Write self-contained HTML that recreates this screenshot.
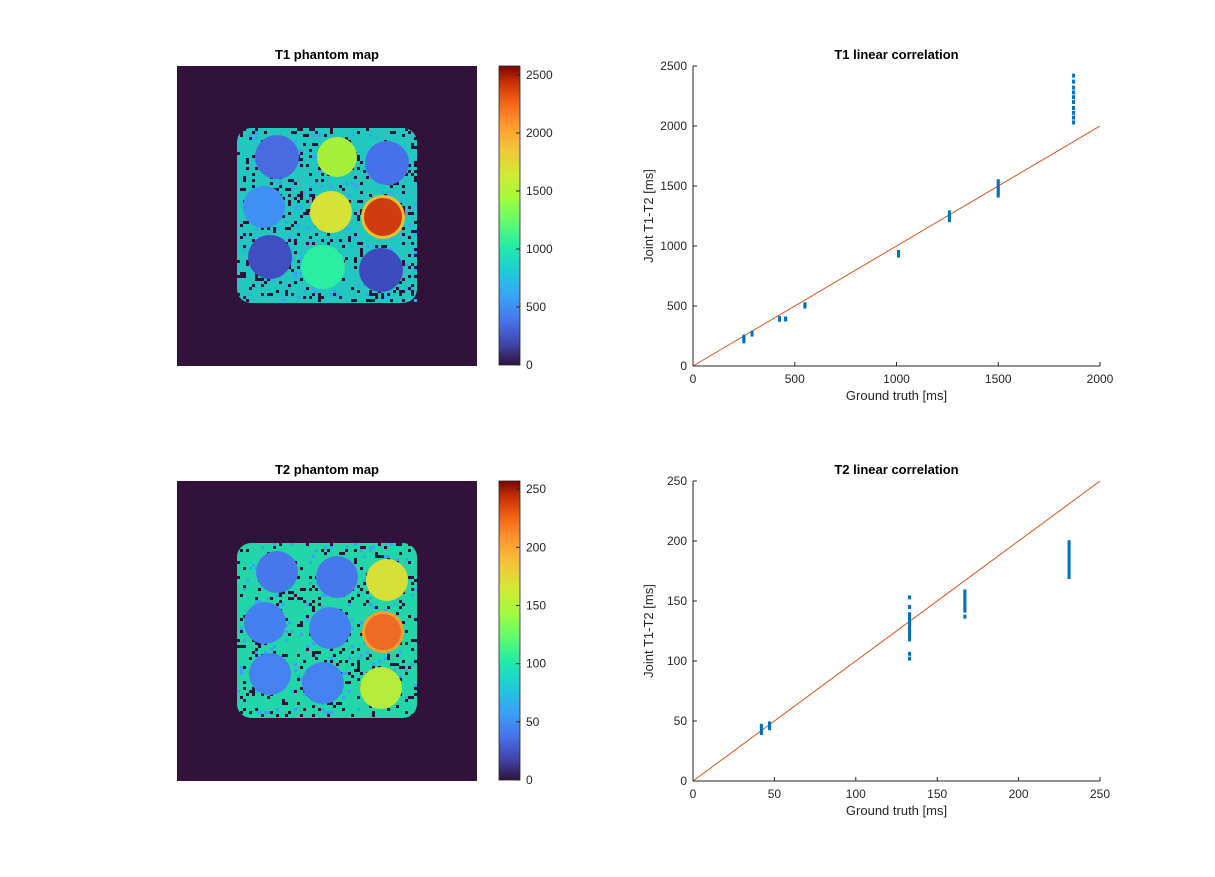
<!DOCTYPE html>
<html><head><meta charset="utf-8">
<style>
html,body{margin:0;padding:0;background:#fff;}
svg{display:block;font-family:"Liberation Sans",Arial,sans-serif;}
</style></head>
<body>
<svg id="fig" width="1215" height="877" viewBox="0 0 1215 877" xmlns="http://www.w3.org/2000/svg">
<defs>
<linearGradient id="turbo" x1="0" y1="1" x2="0" y2="0">
<stop offset="0" stop-color="#30123b"/>
<stop offset="0.07" stop-color="#4145ab"/>
<stop offset="0.15" stop-color="#4675ed"/>
<stop offset="0.23" stop-color="#39a2fc"/>
<stop offset="0.32" stop-color="#1bcfd4"/>
<stop offset="0.40" stop-color="#24eca6"/>
<stop offset="0.48" stop-color="#61fc6c"/>
<stop offset="0.56" stop-color="#a4fc3b"/>
<stop offset="0.64" stop-color="#d1e834"/>
<stop offset="0.72" stop-color="#f3c63a"/>
<stop offset="0.80" stop-color="#fe9b2d"/>
<stop offset="0.88" stop-color="#f36315"/>
<stop offset="0.95" stop-color="#c42d03"/>
<stop offset="1" stop-color="#7a0403"/>
</linearGradient>
<radialGradient id="ringT1"><stop offset="0.8" stop-color="#d2400f"/><stop offset="1" stop-color="#e6c02a"/></radialGradient>
</defs>
</svg>
<script>
const NS='http://www.w3.org/2000/svg';
const svg=document.getElementById('fig');
function mk(tag,attrs,parent){const e=document.createElementNS(NS,tag);for(const k in attrs)e.setAttribute(k,attrs[k]);(parent||svg).appendChild(e);return e;}

// ---------- chart data ----------
const t1GroundTruth=[250,290,425,455,550,1010,1260,1500,1870];
const t1Measured=[
 [205,215,225,235,245],
 [262,270,278],
 [385,393,400],
 [388,396],
 [495,505,515],
 [920,930,940,950],
 [1215,1230,1245,1260,1280],
 [1420,1440,1460,1480,1500,1520,1540],
 [2030,2070,2110,2150,2200,2240,2280,2320,2370,2420]
];
const t1XTicks=[0,500,1000,1500,2000];
const t1YTicks=[0,500,1000,1500,2000,2500];

const t2GroundTruth=[42,47,133,167,231];
const t2Measured=[
 [40,42,44,46],
 [44,46,48],
 [102,106,118,121,124,127,130,133,136,139,145,153],
 [137,142,144,146,148,150,152,154,156,158],
 [170,173,176,179,182,185,188,191,194,197,199]
];
const t2XTicks=[0,50,100,150,200,250];
const t2YTicks=[0,50,100,150,200,250];

const t1CbarTicks=[0,500,1000,1500,2000,2500];
const t2CbarTicks=[0,50,100,150,200,250];

// ---------- scatter plots ----------
function scatter(name,title,x0,y0,w,h,xmax,ymax,xt,yt,gx,gy,fitMax){
  const g=mk('g',{});
  
  
  const X=v=>x0+v/xmax*w, Y=v=>y0+h-v/ymax*h;
  mk('rect',{x:x0,y:y0,width:w,height:h,fill:'#fff'},g);
  // fit line
  const ln=mk('line',{x1:X(0),y1:Y(0),x2:X(fitMax),y2:Y(fitMax),stroke:'#d95319','stroke-width':1},g);
  
  
  gx.forEach((xv,i)=>{gy[i].forEach(yv=>{
    const p=mk('rect',{x:X(xv)-1.5,y:Y(yv)-2,width:3,height:4,fill:'#0072bd'},g);
    
    
  });});
  // axes
  mk('line',{x1:x0,y1:y0+h,x2:x0+w,y2:y0+h,stroke:'#262626','stroke-width':1},g);
  mk('line',{x1:x0,y1:y0,x2:x0,y2:y0+h,stroke:'#262626','stroke-width':1},g);
  xt.forEach(v=>{
    mk('line',{x1:X(v),y1:y0+h,x2:X(v),y2:y0+h-4,stroke:'#262626'},g);
    const t=mk('text',{x:X(v),y:y0+h+17,'font-size':12,fill:'#262626','text-anchor':'middle'},g);
    t.textContent=v;
    
    
  });
  yt.forEach(v=>{
    mk('line',{x1:x0,y1:Y(v),x2:x0+4,y2:Y(v),stroke:'#262626'},g);
    const t=mk('text',{x:x0-6,y:Y(v)+4,'font-size':12,fill:'#262626','text-anchor':'end'},g);
    t.textContent=v;
    
    
  });
  const tt=mk('text',{x:x0+w/2,y:y0-7,'font-size':13,'font-weight':'bold',fill:'#000','text-anchor':'middle'},g);
  tt.textContent=title;
  
  
  const xl=mk('text',{x:x0+w/2,y:y0+h+34,'font-size':13,fill:'#262626','text-anchor':'middle'},g);
  xl.textContent='Ground truth [ms]';
  
  
  const yl=mk('text',{x:0,y:0,'font-size':13,fill:'#262626','text-anchor':'middle',transform:`translate(${x0-40},${y0+h/2}) rotate(-90)`},g);
  yl.textContent='Joint T1-T2 [ms]';
  
  
}
scatter('t1-correlation-plot','T1 linear correlation',693,66,407,300,2000,2500,t1XTicks,t1YTicks,t1GroundTruth,t1Measured,2000);
scatter('t2-correlation-plot','T2 linear correlation',693,481,407,300,250,250,t2XTicks,t2YTicks,t2GroundTruth,t2Measured,250);

// ---------- phantom maps ----------
function hash(i,j){let h=(i*374761393+j*668265263)^0x5bd1e995;h=(h^(h>>>13))*1274126177;h=h^(h>>>16);return (h>>>0)/4294967296;}
function phantom(name,title,y0,bodyColor,circles,cbarTicks,cbarMax){
  const g=mk('g',{});
  
  
  const x0=177,w=300,h=300;
  mk('rect',{x:x0,y:y0,width:w,height:h,fill:'#30123b'},g);
  const by=y0+62;
  mk('rect',{x:237,y:by,width:180,height:175,rx:14,fill:bodyColor},g);
  // speckle noise
  const cell=3;
  for(let i=0;i<60;i++)for(let j=0;j<58;j++){
    const px=237+i*cell,py=by+j*cell;
    if(hash(i,j+y0)<0.13){mk('rect',{x:px,y:py,width:cell,height:cell,fill:'#30123b'},g);}
    else if(hash(i+99,j+y0)<0.05){mk('rect',{x:px,y:py,width:cell,height:cell,fill:'#39a2fc'},g);}
  }
  circles.forEach(c=>{
    const e=mk('circle',{cx:c[0],cy:c[1]+y0,r:c[2],fill:c[3]},g);
    
    
  });
  const tt=mk('text',{x:x0+w/2,y:y0-7,'font-size':13,'font-weight':'bold',fill:'#000','text-anchor':'middle'},g);
  tt.textContent=title;
  
  
  // colorbar
  const cb=mk('rect',{x:499,y:y0,width:21,height:299,fill:'url(#turbo)',stroke:'#262626','stroke-width':0.8},g);
  
  
  cbarTicks.forEach(v=>{
    const yy=y0+299-v/cbarMax*299;
    mk('line',{x1:516,y1:yy,x2:520,y2:yy,stroke:'#262626'},g);
    const t=mk('text',{x:526,y:yy+4,'font-size':12,fill:'#262626'},g);
    t.textContent=v;
    
    
  });
}
phantom('t1-phantom-map','T1 phantom map',66,'#22c8bf',[
 [277,91,22,'#4a6ae0'],[337,91,20,'#a6ef3a'],[387,97,22,'#4671ea'],
 [264,141,21,'#3f8ff5'],[331,146,21,'#d5e236'],[383,151,22,'#e8c02c'],[383,151,19,'#cf3c10'],
 [270,191,22,'#3f4fc2'],[323,201,22,'#2ceea0'],[381,204,22,'#3d4bbf']
],t1CbarTicks,2577);
phantom('t2-phantom-map','T2 phantom map',481,'#22d6aa',[
 [277,91,21,'#4678ec'],[337,96,21,'#4678ec'],[387,99,21,'#d6df37'],
 [265,142,21,'#4580f0'],[330,147,21,'#4580f0'],[383,151,21,'#f3a030'],[383,151,18,'#ef6a22'],
 [270,193,21,'#4682ef'],[323,202,21,'#4682ef'],[381,207,21,'#b3ec3d']
],t2CbarTicks,257);
</script>
</body></html>
